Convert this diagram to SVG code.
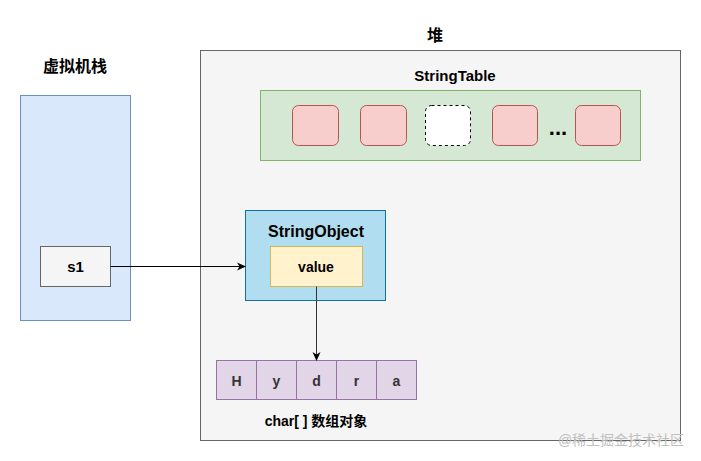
<svg xmlns="http://www.w3.org/2000/svg" width="701" height="461" viewBox="0 0 701 461">
<defs>
<marker id="arr" markerWidth="10" markerHeight="10" refX="8" refY="5" orient="auto" markerUnits="userSpaceOnUse">
<path d="M0,1 L9,5 L0,9 L2.5,5 Z" fill="#000"/>
</marker>
<style>
text{font-family:"Liberation Sans","Noto Sans CJK SC",Arial,sans-serif;font-weight:bold;text-anchor:middle;fill:#000;}
.pink{fill:#f8cecc;stroke:#b85450;stroke-width:1;}
.cell{fill:#e1d5e7;stroke:#9673a6;stroke-width:1;}
.c{font-size:14px;fill:#333;}
</style>
</defs>
<rect width="701" height="461" fill="#fff"/>
<g id="heap">
<rect x="200.5" y="50.5" width="480" height="390" fill="#f5f5f5" stroke="#666"/>
<text x="435" y="41" font-size="16">堆</text>
</g>
<g id="stack">
<text x="75" y="72" font-size="16">虚拟机栈</text>
<rect x="20.5" y="95.5" width="110" height="225" fill="#dae8fc" stroke="#6c8ebf"/>
</g>
<g id="s1">
<rect x="40.5" y="246.5" width="70" height="40" fill="#f5f5f5" stroke="#666"/>
<text x="75.5" y="272" font-size="15" fill="#333">s1</text>
</g>
<g id="stringtable">
<text x="455" y="81" font-size="15">StringTable</text>
<rect x="260.5" y="90.5" width="380" height="70" fill="#d5e8d4" stroke="#82b366"/>
<rect class="pink" x="292.5" y="105.5" width="46" height="40" rx="6"/>
<rect class="pink" x="360.5" y="105.5" width="46" height="40" rx="6"/>
<rect x="425.5" y="105.5" width="45" height="40" rx="6" fill="#fff" stroke="#000" stroke-dasharray="3,3"/>
<rect class="pink" x="492.5" y="105.5" width="45" height="40" rx="6"/>
<rect class="pink" x="575.5" y="105.5" width="45" height="40" rx="6"/>
<text x="558" y="135" font-size="22">...</text>
</g>
<g id="stringobject">
<rect x="245.5" y="210.5" width="140" height="90" fill="#b1ddf0" stroke="#10739e"/>
<text x="316" y="237" font-size="16" fill="#333">StringObject</text>
</g>
<g id="value">
<rect x="270.5" y="246.5" width="92" height="40" fill="#fff2cc" stroke="#d6b656"/>
<text x="316" y="272" font-size="14" fill="#333">value</text>
</g>
<g id="chararray">
<rect class="cell" x="216.5" y="360.5" width="40" height="39"/>
<rect class="cell" x="256.5" y="360.5" width="40" height="39"/>
<rect class="cell" x="296.5" y="360.5" width="40" height="39"/>
<rect class="cell" x="336.5" y="360.5" width="40" height="39"/>
<rect class="cell" x="376.5" y="360.5" width="40" height="39"/>
<text class="c" x="236.5" y="386">H</text>
<text class="c" x="276.5" y="386">y</text>
<text class="c" x="316.5" y="386">d</text>
<text class="c" x="356.5" y="386">r</text>
<text class="c" x="396.5" y="386">a</text>
<text x="316" y="426" font-size="14" fill="#333">char[ ] 数组对象</text>
</g>
<g id="connectors" fill="none" stroke-width="1">
<line x1="110.5" y1="266.5" x2="245" y2="266.5" stroke="#000" marker-end="url(#arr)"/>
<line x1="316.5" y1="286.5" x2="316.5" y2="360" stroke="#333" marker-end="url(#arr)"/>
</g>
<text x="621" y="445" font-size="14" style="font-weight:normal;fill:#c0c0c0">@稀土掘金技术社区</text>
</svg>
